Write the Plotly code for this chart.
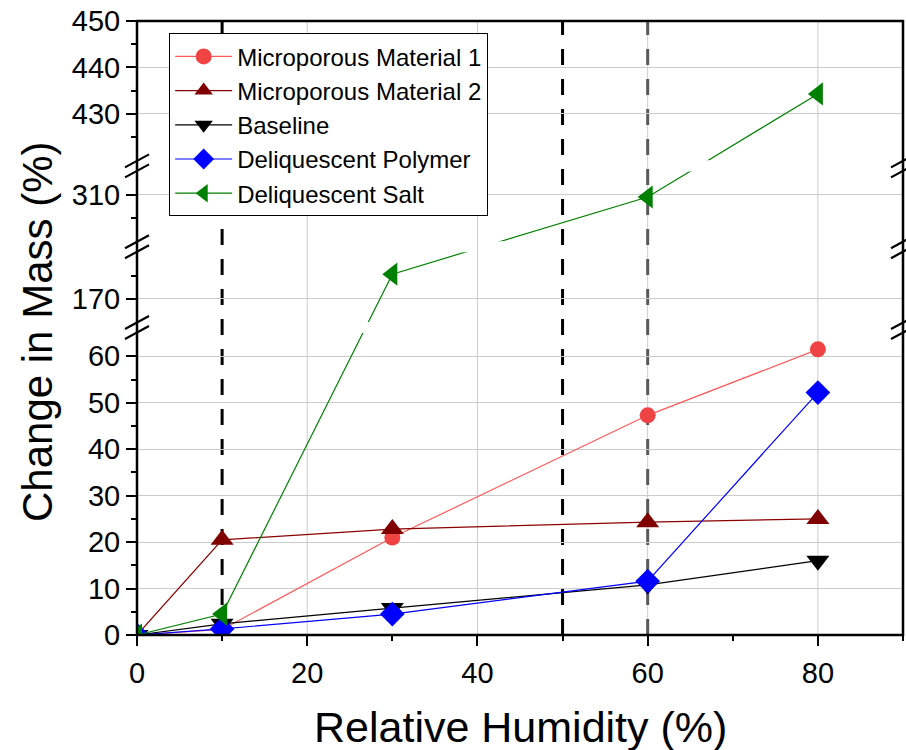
import plotly.graph_objects as go

# ---------------- data ----------------
rh = [0, 10, 30, 60, 80]
micro1 = [0.0, 1.2, 21.0, 47.3, 61.5]
micro2 = [0.0, 20.5, 22.8, 24.3, 25.0]
baseline = [0.0, 2.4, 5.8, 10.8, 16.0]
polymer = [0.0, 1.3, 4.5, 11.6, 52.2]
salt = [0.0, 4.5, 175.3, 309.5, 434.3]

series_names = ["Microporous Material 1", "Microporous Material 2", "Baseline",
                "Deliquescent Polymer", "Deliquescent Salt"]
series_values = [micro1, micro2, baseline, polymer, salt]

# broken y axis segments (value ranges) and their ticks
segments = [(0, 65), (165, 180), (300, 315), (420, 450)]
y_major = [[0, 10, 20, 30, 40, 50, 60], [170], [310], [430, 440, 450]]
y_minor = [[5, 15, 25, 35, 45, 55], [175], [305], [425, 435, 445]]
x_major = [0, 20, 40, 60, 80]
x_minor = [10, 30, 50, 70, 90]
x_grid = [20, 40, 60, 80]
dashed_black = [10, 50]
dashed_gray = [60]

# ---------------- styles ----------------
line_colors = ["#FF5A5A", "#8B0000", "#000000", "#0000FF", "#008000"]
marker_colors = ["#F04444", "#800000", "#000000", "#0000FF", "#008000"]
symbols = ["circle", "triangle-up", "triangle-down", "diamond", "triangle-left"]
msizes = [16, 20, 20, 19, 20]
FONT = "Liberation Sans, Arial, sans-serif"

W, H = 906, 750
ML, MR, MT, MB = 137, 3, 21, 115
PW, PH = W - ML - MR, H - MT - MB
GAP = 2.4  # size of each axis break, in transformed units

# transformed coordinate for the broken axis
offsets = []
acc = 0.0
for lo, hi in segments:
    offsets.append(acc)
    acc += (hi - lo) + GAP
TTOT = acc - GAP


def T(v):
    idx = 0
    for i, (lo, hi) in enumerate(segments):
        if v >= lo:
            idx = i
    lo, hi = segments[idx]
    return offsets[idx] + (v - lo)


yaxis_names = ["y", "y2", "y3", "y4"]

fig = go.Figure()
for k, yn in enumerate(yaxis_names):
    for i, (name, vals) in enumerate(zip(series_names, series_values)):
        fig.add_trace(go.Scatter(
            x=rh, y=[T(v) for v in vals], name=name,
            mode="lines+markers", xaxis="x", yaxis=yn,
            legendgroup=name, showlegend=(k == 0),
            line=dict(color=line_colors[i], width=1.2),
            marker=dict(symbol=symbols[i], size=msizes[i], color=marker_colors[i],
                        line=dict(width=0)),
        ))

layout = dict(
    width=W, height=H,
    margin=dict(l=ML, r=MR, t=MT, b=MB),
    paper_bgcolor="white", plot_bgcolor="rgba(0,0,0,0)",
    font=dict(family=FONT, color="black"),
    showlegend=True,
    legend=dict(x=0.042, y=0.98, xanchor="left", yanchor="top",
                bordercolor="black", borderwidth=1, bgcolor="white",
                font=dict(size=24, family=FONT), itemwidth=57, tracegroupgap=0),
    xaxis=dict(range=[0, 90], domain=[0, 1], anchor="y",
               tickvals=x_major, ticks="outside", ticklen=10, tickwidth=2,
               tickcolor="black",
               minor=dict(tickvals=x_minor, ticks="outside", ticklen=5,
                          tickwidth=2, tickcolor="black", showgrid=False),
               showgrid=False, zeroline=False, showline=False,
               tickfont=dict(size=29, family=FONT), ticklabelstandoff=2),
    xaxis2=dict(range=[0, 90], overlaying="x", anchor="y4", side="top",
                tickvals=x_major, ticks="inside", ticklen=10, tickwidth=2,
                tickcolor="black",
                minor=dict(tickvals=x_minor, ticks="inside", ticklen=5,
                           tickwidth=2, tickcolor="black", showgrid=False),
                showticklabels=False, showgrid=False, zeroline=False,
                showline=False),
)

for k, (lo, hi) in enumerate(segments):
    rng = [T(lo), T(hi)]
    dom = [T(lo) / TTOT, T(hi) / TTOT]
    key = "yaxis" if k == 0 else f"yaxis{k + 1}"
    layout[key] = dict(
        domain=dom, range=rng, anchor="x",
        tickvals=[T(v) for v in y_major[k]],
        ticktext=[str(v) for v in y_major[k]],
        ticks="outside", ticklen=10, tickwidth=2, tickcolor="black",
        minor=dict(tickvals=[T(v) for v in y_minor[k]], ticks="outside",
                   ticklen=5, tickwidth=2, tickcolor="black", showgrid=False),
        showgrid=True, gridcolor="#CCCCCC", gridwidth=1,
        zeroline=False, showline=False,
        tickfont=dict(size=29, family=FONT),
    )
    # right-side mirrored axis, ticks inward
    rkey = f"yaxis{k + 5}"
    layout[rkey] = dict(
        overlaying=yaxis_names[k], side="right", anchor="x", range=rng,
        tickvals=[T(v) for v in y_major[k]],
        ticks="inside", ticklen=10, tickwidth=2, tickcolor="black",
        minor=dict(tickvals=[T(v) for v in y_minor[k]], ticks="inside",
                   ticklen=5, tickwidth=2, tickcolor="black", showgrid=False),
        showticklabels=False, showgrid=False, zeroline=False, showline=False,
    )

shapes = []
for xv in x_grid:
    shapes.append(dict(type="line", xref="x", yref="paper", x0=xv, x1=xv, y0=0, y1=1,
                       line=dict(color="#CCCCCC", width=1), layer="below"))
for xv in dashed_black:
    shapes.append(dict(type="line", xref="x", yref="paper", x0=xv, x1=xv, y0=0, y1=1,
                       line=dict(color="black", width=3, dash="16px,14px"), layer="below"))
for xv in dashed_gray:
    shapes.append(dict(type="line", xref="x", yref="paper", x0=xv, x1=xv, y0=0, y1=1,
                       line=dict(color="#5A5A5A", width=3, dash="16px,14px"), layer="below"))
# frame
shapes.append(dict(type="rect", xref="paper", yref="paper", x0=0, x1=1, y0=0, y1=1,
                   line=dict(color="black", width=2.5), fillcolor="rgba(0,0,0,0)",
                   layer="above"))
# break marks
dxp, dyp = 1.0 / PW, 1.0 / PH
for k in range(len(segments) - 1):
    yc = (T(segments[k][1]) + GAP / 2) / TTOT
    for xc in (0, 1):
        for off in (-5, 5):
            shapes.append(dict(type="line", xref="paper", yref="paper",
                               x0=xc - 12 * dxp, x1=xc + 12 * dxp,
                               y0=yc + (off - 6.5) * dyp, y1=yc + (off + 6.5) * dyp,
                               line=dict(color="black", width=2.2), layer="above"))
layout["shapes"] = shapes

layout["annotations"] = [
    dict(text="Change in Mass (%)", xref="paper", yref="paper",
         x=(37 - ML) / PW, y=(H - MB - 332) / PH, textangle=-90,
         xanchor="center", yanchor="middle", showarrow=False,
         font=dict(size=42, family=FONT)),
    dict(text="Relative Humidity (%)", xref="paper", yref="paper",
         x=0.5, y=(H - MB - 727) / PH, xanchor="center", yanchor="middle",
         showarrow=False, font=dict(size=43, family=FONT)),
]

fig.update_layout(**layout)
fig.write_html("out.html")
